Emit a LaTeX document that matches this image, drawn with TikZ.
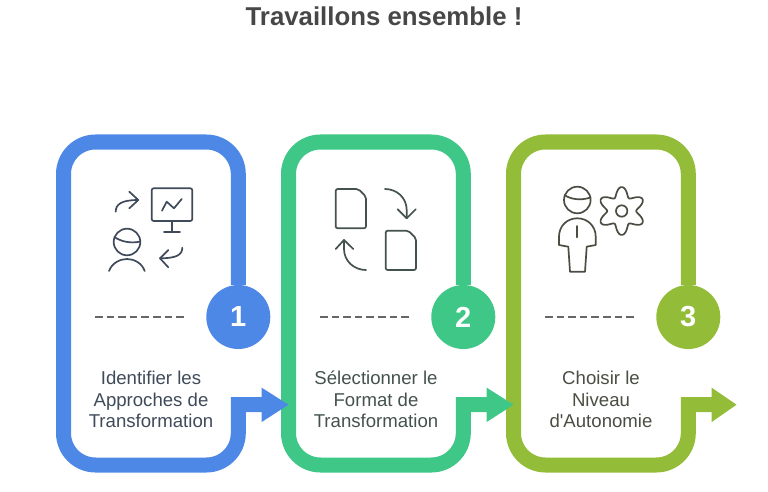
\documentclass[tikz,border=0pt]{standalone}
\usepackage{fontspec}
\setmainfont{Liberation Sans}
\definecolor{blueband}{HTML}{4E88E7}
\definecolor{greenband}{HTML}{3EC786}
\definecolor{oliveband}{HTML}{93BC39}
\definecolor{blueink}{HTML}{3F4A5A}
\definecolor{greenink}{HTML}{44524E}
\definecolor{oliveink}{HTML}{4A4E42}
\tikzset{
    band/.style={line width=15pt, rounded corners=32pt},
    numdot/.style={circle, minimum size=64pt, inner sep=0pt, text=white, font=\bfseries\fontsize{29}{29}\selectfont},
    steptext/.style={align=center, text=#1, font=\fontsize{18.6}{21.6}\selectfont},
    dashes/.style={line width=2pt, color=black!60, dash pattern=on 7.6pt off 4pt},
    icon/.style={line width=1.7pt, line cap=round, line join=round}
}
\begin{document}
\begin{tikzpicture}[x=1pt, y=-1pt]
\useasboundingbox (0,0) rectangle (768,492);
\node[font=\bfseries\fontsize{25.8}{25.8}\selectfont, text=black!72] (title) at (384,16) {Travaillons ensemble !};
% Number discs
\node[numdot, fill=blueband] (numa) at (238.3,317) {1};
\node[numdot, fill=greenband] (numb) at (463.3,317) {2};
\node[numdot, fill=oliveband] (numc) at (688.3,317) {3};
% Bands
\draw[band, blueband] (numa.north) -- (238.3,142) -- (63.5,142) -- (63.5,465) -- (238.3,465)
    [sharp corners] -- (238.3,404.7) -- (264,404.7);
\draw[band, greenband] (numb.north) -- (463.3,142) -- (288.5,142) -- (288.5,465) -- (463.3,465)
    [sharp corners] -- (463.3,404.7) -- (489,404.7);
\draw[band, oliveband] (numc.north) -- (688.3,142) -- (513.5,142) -- (513.5,465) -- (688.3,465)
    [sharp corners] -- (688.3,404.7) -- (714,404.7);
% Arrow heads
\fill[blueband] (261.7,387.7) -- (288.5,404.7) -- (261.7,422) -- cycle;
\fill[greenband] (486.7,387.7) -- (513.5,404.7) -- (486.7,422) -- cycle;
\fill[oliveband] (711.7,387.7) -- (736.5,404.7) -- (711.7,422) -- cycle;
% Dashed rules
\coordinate (dasha) at (95,316.7);
\coordinate (dashb) at (320,316.7);
\coordinate (dashc) at (545,316.7);
\draw[dashes] (dasha) -- ++(90,0);
\draw[dashes] (dashb) -- ++(90,0);
\draw[dashes] (dashc) -- ++(90,0);
% Step texts
\node[steptext=blueink] (texta) at (151,399.5) {Identifier les\\Approches de\\Transformation};
\node[steptext=greenink] (textb) at (376,399.5) {Sélectionner le\\Format de\\Transformation};
\node[steptext=oliveink] (textc) at (601,399.5) {Choisir le\\Niveau\\d\textquotesingle Autonomie};
% Screen, person, two arrows
\draw[icon, blueink, rounded corners=2pt] (151.7,188.3) rectangle (192.3,221);
\draw[icon, blueink] (171.7,221) -- (171.7,232) (164,232) -- (180,232);
\draw[icon, blueink] (162,210.7) -- (166.7,201.7) -- (174,208.3) -- (181.7,199);
\draw[icon, blueink] (115.7,211.7) .. controls (115.7,204) and (122,200) .. (138.3,200);
\draw[icon, blueink] (129.3,191.7) -- (138.3,200) -- (129.3,208.3);
\draw[icon, blueink] (182.3,247.7) .. controls (182.3,255) and (176,258.3) .. (160,258.3);
\draw[icon, blueink] (168.3,250) -- (160,258.3) -- (168.3,267.3);
\draw[icon, blueink] (127,242) circle (13.3);
\draw[icon, blueink] (114.5,237) .. controls (120,241) and (130,244) .. (140.3,241.5);
\draw[icon, blueink] (109,271) .. controls (112,263) and (120,259) .. (127,259)
    .. controls (134,259) and (142,263) .. (144.7,271);
% Two sheets, two arrows
\draw[icon, greenink, rounded corners=2pt] (358.3,189) -- (335.7,189) -- (335.7,228.3) -- (366,228.3) -- (366,196.7) -- cycle;
\draw[icon, greenink, rounded corners=2pt] (408.3,230.7) -- (385.7,230.7) -- (385.7,270) -- (416,270) -- (416,238.3) -- cycle;
\draw[icon, greenink] (385,189) .. controls (397,189) and (406.7,198) .. (406.7,210) -- (406.7,218.3);
\draw[icon, greenink] (397.7,209.3) -- (406.7,218.3) -- (415.7,209.3);
\draw[icon, greenink] (366,270) .. controls (354,270) and (344,261) .. (344,249) -- (344,240);
\draw[icon, greenink] (335.7,249) -- (344,240) -- (353.3,249);
% Person, gear
\draw[icon, oliveink] (577.3,200) circle (13.3);
\draw[icon, oliveink] (564.5,195) .. controls (570,199) and (580,201) .. (590.5,197.5);
\draw[icon, oliveink] (559,245) -- (559,236.7) .. controls (559,226) and (567,218.3) .. (577.3,218.3)
    .. controls (587.6,218.3) and (595.7,226) .. (595.7,236.7) -- (595.7,245) -- (586.7,246.7) -- (585,271.7) -- (570,271.7) -- (568.3,246.7) -- cycle;
\draw[icon, oliveink] (577.3,226) -- (577.3,237.3);
\draw[icon, oliveink] (621.7,211) circle (5.7);
\draw[icon, oliveink] plot[smooth cycle, domain=0:356, samples=90]
    ({621.7+(19.25+4.75*cos(6*(\x-90)))*cos(\x)}, {211+(19.25+4.75*cos(6*(\x-90)))*sin(\x)});
\end{tikzpicture}
\end{document}
